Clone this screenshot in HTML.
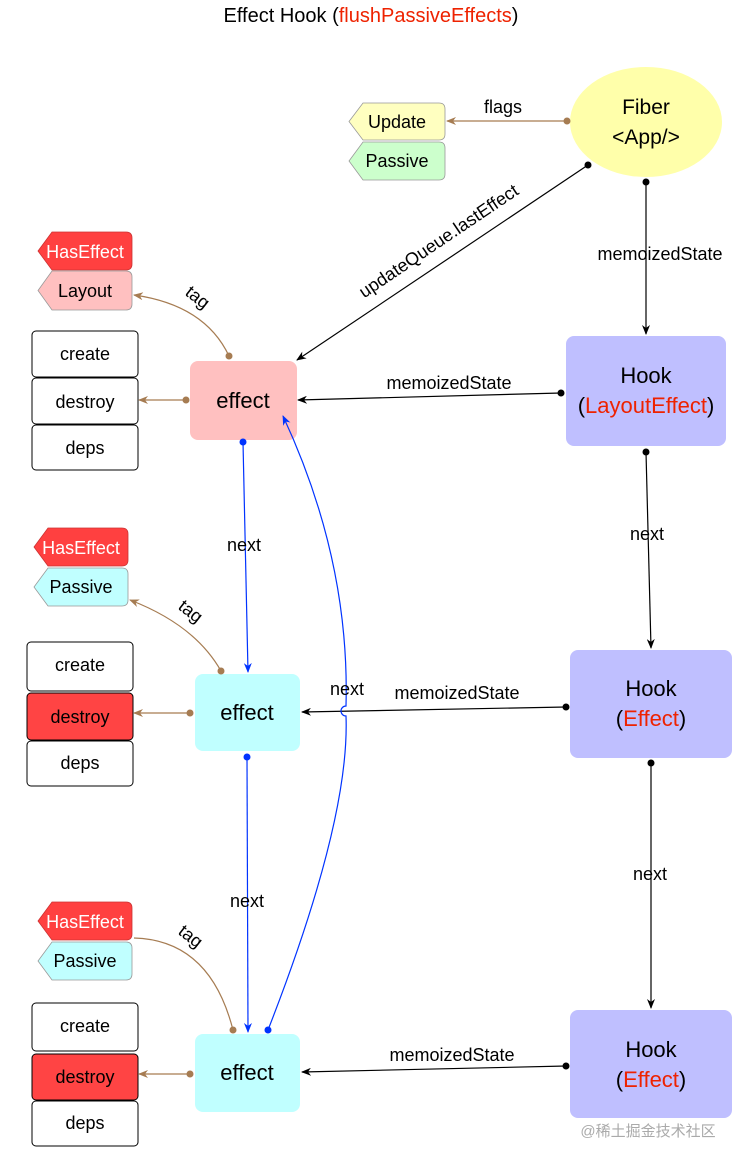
<!DOCTYPE html>
<html><head><meta charset="utf-8"><style>
body{margin:0;background:#fff}
svg{display:block}
text{font-family:"Liberation Sans","Noto Sans CJK SC",sans-serif}
</style></head><body>
<svg width="742" height="1164" viewBox="0 0 742 1164" xmlns="http://www.w3.org/2000/svg">
<defs>
<marker id="ab" markerWidth="10" markerHeight="8" refX="9" refY="4" orient="auto" markerUnits="userSpaceOnUse"><path d="M0,0 L10,4 L0,8 L3,4 Z" fill="#000"/></marker>
<marker id="abr" markerWidth="10" markerHeight="8" refX="9" refY="4" orient="auto" markerUnits="userSpaceOnUse"><path d="M0,0 L10,4 L0,8 L3,4 Z" fill="#a67c52"/></marker>
<marker id="abl" markerWidth="10" markerHeight="8" refX="9" refY="4" orient="auto" markerUnits="userSpaceOnUse"><path d="M0,0 L10,4 L0,8 L3,4 Z" fill="#0033ff"/></marker>
</defs>
<text x="371" y="22" font-size="20" text-anchor="middle">Effect Hook (<tspan fill="#ee2200">flushPassiveEffects</tspan>)</text>

<ellipse cx="646" cy="122" rx="76" ry="55" fill="#ffffaa"/>
<text x="646" y="114" font-size="21" text-anchor="middle">Fiber</text>
<text x="646" y="144" font-size="21" text-anchor="middle">&lt;App/&gt;</text>

<g font-size="18" text-anchor="middle">
<path d="M363,103 L439,103 Q445,103 445,109 L445,134 Q445,140 439,140 L363,140 L349,121.5 Z" fill="#ffffc0" stroke="#999" stroke-width="0.8"/>
<text x="397" y="128">Update</text>
<path d="M363,142 L439,142 Q445,142 445,148 L445,174 Q445,180 439,180 L363,180 L349,161 Z" fill="#ccffcc" stroke="#999" stroke-width="0.8"/>
<text x="397" y="167">Passive</text>

<path d="M52,232 L126,232 Q132,232 132,238 L132,264 Q132,270 126,270 L52,270 L38,251 Z" fill="#ff4040" stroke="#c33" stroke-width="0.8"/>
<text x="85" y="258" fill="#fff">HasEffect</text>
<path d="M52,271 L126,271 Q132,271 132,277 L132,304 Q132,310 126,310 L52,310 L38,290.5 Z" fill="#ffc0c0" stroke="#999" stroke-width="0.8"/>
<text x="85" y="297">Layout</text>

<path d="M48,528 L122,528 Q128,528 128,534 L128,560 Q128,566 122,566 L48,566 L34,547 Z" fill="#ff4040" stroke="#c33" stroke-width="0.8"/>
<text x="81" y="554" fill="#fff">HasEffect</text>
<path d="M48,568 L122,568 Q128,568 128,574 L128,600 Q128,606 122,606 L48,606 L34,587 Z" fill="#c0ffff" stroke="#999" stroke-width="0.8"/>
<text x="81" y="593">Passive</text>

<path d="M52,902 L126,902 Q132,902 132,908 L132,934 Q132,940 126,940 L52,940 L38,921 Z" fill="#ff4040" stroke="#c33" stroke-width="0.8"/>
<text x="85" y="928" fill="#fff">HasEffect</text>
<path d="M52,942 L126,942 Q132,942 132,948 L132,974 Q132,980 126,980 L52,980 L38,961 Z" fill="#c0ffff" stroke="#999" stroke-width="0.8"/>
<text x="85" y="967">Passive</text>
</g>

<g font-size="18" text-anchor="middle" stroke-width="1">
<rect x="32" y="331" width="106" height="46" rx="4" fill="#fff" stroke="#000"/><text x="85" y="360">create</text>
<rect x="32" y="378" width="106" height="46" rx="4" fill="#fff" stroke="#000"/><text x="85" y="408">destroy</text>
<rect x="32" y="425" width="106" height="45" rx="4" fill="#fff" stroke="#000"/><text x="85" y="454">deps</text>

<rect x="27" y="642" width="106" height="49" rx="4" fill="#fff" stroke="#000"/><text x="80" y="671">create</text>
<rect x="27" y="693" width="106" height="47" rx="4" fill="#ff4444" stroke="#000"/><text x="80" y="723">destroy</text>
<rect x="27" y="741" width="106" height="45" rx="4" fill="#fff" stroke="#000"/><text x="80" y="769">deps</text>

<rect x="32" y="1003" width="106" height="48" rx="4" fill="#fff" stroke="#000"/><text x="85" y="1032">create</text>
<rect x="32" y="1054" width="106" height="46" rx="4" fill="#ff4444" stroke="#000"/><text x="85" y="1083">destroy</text>
<rect x="32" y="1101" width="106" height="45" rx="4" fill="#fff" stroke="#000"/><text x="85" y="1129">deps</text>
</g>

<g font-size="22" text-anchor="middle">
<rect x="190" y="361" width="107" height="79" rx="8" fill="#ffc0c0"/><text x="243" y="408">effect</text>
<rect x="195" y="674" width="105" height="77" rx="8" fill="#c0ffff"/><text x="247" y="720">effect</text>
<rect x="195" y="1034" width="105" height="78" rx="8" fill="#c0ffff"/><text x="247" y="1080">effect</text>
</g>

<g font-size="22" text-anchor="middle">
<rect x="566" y="336" width="160" height="110" rx="8" fill="#bfbfff"/>
<text x="646" y="383">Hook</text><text x="646" y="413">(<tspan fill="#ee2200">LayoutEffect</tspan>)</text>
<rect x="570" y="650" width="162" height="108" rx="8" fill="#bfbfff"/>
<text x="651" y="696">Hook</text><text x="651" y="726">(<tspan fill="#ee2200">Effect</tspan>)</text>
<rect x="570" y="1010" width="162" height="108" rx="8" fill="#bfbfff"/>
<text x="651" y="1057">Hook</text><text x="651" y="1087">(<tspan fill="#ee2200">Effect</tspan>)</text>
</g>

<g stroke="#000" stroke-width="1.2" fill="none">
<line x1="646" y1="182" x2="646" y2="334" marker-end="url(#ab)"/>
<line x1="588" y1="165" x2="297" y2="360" marker-end="url(#ab)"/>
<line x1="561" y1="393" x2="298" y2="400" marker-end="url(#ab)"/>
<line x1="646" y1="452" x2="651" y2="648" marker-end="url(#ab)"/>
<line x1="566" y1="707" x2="302" y2="712" marker-end="url(#ab)"/>
<line x1="651" y1="763" x2="651" y2="1008" marker-end="url(#ab)"/>
<line x1="566" y1="1066" x2="302" y2="1072" marker-end="url(#ab)"/>
</g>
<g fill="#000">
<circle cx="646" cy="182" r="3.5"/><circle cx="588" cy="165" r="3.5"/><circle cx="561" cy="393" r="3.5"/>
<circle cx="646" cy="452" r="3.5"/><circle cx="566" cy="707" r="3.5"/><circle cx="651" cy="763" r="3.5"/><circle cx="566" cy="1066" r="3.5"/>
</g>

<g stroke="#a67c52" stroke-width="1.2" fill="none">
<line x1="567" y1="121" x2="447" y2="121" marker-end="url(#abr)"/>
<line x1="186" y1="400" x2="139" y2="400" marker-end="url(#abr)"/>
<path d="M229,356 Q205,305 134,295" marker-end="url(#abr)"/>
<line x1="190" y1="713" x2="134" y2="713" marker-end="url(#abr)"/>
<path d="M221,671 Q195,625 130,600" marker-end="url(#abr)"/>
<line x1="190" y1="1074" x2="139" y2="1074" marker-end="url(#abr)"/>
<path d="M233,1030 Q210,940 134,938"/>
</g>
<g fill="#a67c52">
<circle cx="567" cy="121" r="3.5"/><circle cx="186" cy="400" r="3.5"/><circle cx="229" cy="356" r="3.5"/>
<circle cx="190" cy="713" r="3.5"/><circle cx="221" cy="671" r="3.5"/><circle cx="190" cy="1074" r="3.5"/><circle cx="233" cy="1030" r="3.5"/>
</g>

<g stroke="#0033ff" stroke-width="1.2" fill="none">
<line x1="243" y1="442" x2="248" y2="672" marker-end="url(#abl)"/>
<line x1="247" y1="757" x2="248" y2="1032" marker-end="url(#abl)"/>
<path d="M268,1030 Q350,820 346,716 A5,5 0 0 1 346,706 Q350,560 283,416" marker-end="url(#abl)"/>
</g>
<g fill="#0033ff">
<circle cx="243" cy="442" r="3.5"/><circle cx="247" cy="757" r="3.5"/><circle cx="268" cy="1030" r="3.5"/>
</g>

<g font-size="18" text-anchor="middle" fill="#000">
<text x="503" y="113">flags</text>
<text x="660" y="260">memoizedState</text>
<text x="449" y="389">memoizedState</text>
<text x="647" y="540">next</text>
<text x="457" y="699">memoizedState</text>
<text x="650" y="880">next</text>
<text x="452" y="1061">memoizedState</text>
<text x="244" y="551">next</text>
<text x="247" y="907">next</text>
<text x="347" y="695">next</text>
<text transform="translate(442,246) rotate(-34)">updateQueue.lastEffect</text>
<text transform="translate(194,302) rotate(38)">tag</text>
<text transform="translate(187,616) rotate(38)">tag</text>
<text transform="translate(187,941) rotate(38)">tag</text>
</g>
<text x="648" y="1136" font-size="15" fill="#aaa" text-anchor="middle">@稀土掘金技术社区</text>
</svg>
</body></html>
